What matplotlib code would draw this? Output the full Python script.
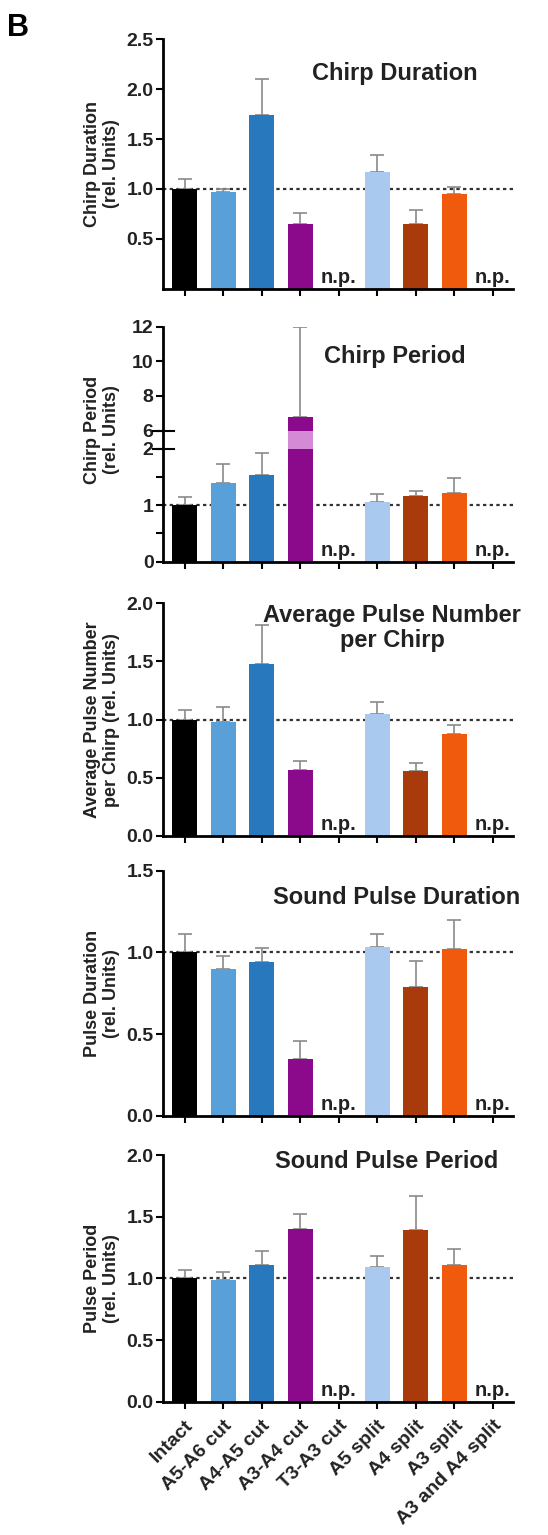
import numpy as np
import matplotlib
matplotlib.use("Agg")
import matplotlib.pyplot as plt
from matplotlib.scale import FuncScale
from matplotlib.transforms import offset_copy

plt.rcParams['font.family'] = ['Liberation Sans', 'DejaVu Sans']
plt.rcParams['font.weight'] = 'bold'

# Groups along the x axis (n.p. = not possible -> NaN)
groups = ["Intact", "A5-A6 cut", "A4-A5 cut", "A3-A4 cut", "T3-A3 cut",
          "A5 split", "A4 split", "A3 split", "A3 and A4 split"]
bar_colors = ["#000000", "#5aa0d8", "#2878be", "#8b0a8c", "#8b0a8c",
              "#a9c9ee", "#a83a0c", "#f05a0c", "#f05a0c"]
nan = np.nan

# Mean values and upper error (SEM)
chirp_duration = [1.00, 0.97, 1.74, 0.65, nan, 1.17, 0.65, 0.95, nan]
chirp_duration_err = [0.10, 0.03, 0.36, 0.11, nan, 0.17, 0.14, 0.07, nan]

chirp_period = [1.00, 1.40, 1.53, 6.80, nan, 1.05, 1.16, 1.22, nan]
chirp_period_err = [0.15, 0.33, 0.39, 5.20, nan, 0.14, 0.09, 0.26, nan]

pulse_number = [1.00, 0.98, 1.48, 0.57, nan, 1.05, 0.56, 0.88, nan]
pulse_number_err = [0.08, 0.13, 0.33, 0.07, nan, 0.10, 0.07, 0.07, nan]

pulse_duration = [1.00, 0.90, 0.94, 0.35, nan, 1.035, 0.79, 1.02, nan]
pulse_duration_err = [0.11, 0.08, 0.09, 0.11, nan, 0.075, 0.16, 0.18, nan]

pulse_period = [1.00, 0.99, 1.11, 1.40, nan, 1.09, 1.39, 1.11, nan]
pulse_period_err = [0.07, 0.06, 0.11, 0.12, nan, 0.09, 0.28, 0.13, nan]

panels = [
    dict(values=chirp_duration, err=chirp_duration_err,
         title="Chirp Duration", ylabel="Chirp Duration\n(rel. Units)",
         ylim=(0, 2.5), ticks=[0.5, 1.0, 1.5, 2.0, 2.5],
         labels=["0.5", "1.0", "1.5", "2.0", "2.5"],
         rect=[0.298, 0.8120, 0.638, 0.1624], title_pos=(0.663, 0.861),
         ylabel_y=0.5),
    dict(values=chirp_period, err=chirp_period_err,
         title="Chirp Period", ylabel="Chirp Period\n(rel. Units)",
         ylim=(0, 12), ticks=[0, 0.5, 1, 1.5, 2, 6, 8, 10, 12],
         labels=["0", "", "1", "", "2", "6", "8", "10", "12"],
         rect=[0.298, 0.6341, 0.638, 0.1531], title_pos=(0.663, 0.872),
         ylabel_y=0.56, broken=(2.0, 6.0)),
    dict(values=pulse_number, err=pulse_number_err,
         title="Average Pulse Number\nper Chirp",
         ylabel="Average Pulse Number\nper Chirp (rel. Units)",
         ylim=(0, 2.0), ticks=[0.0, 0.5, 1.0, 1.5, 2.0],
         labels=["0.0", "0.5", "1.0", "1.5", "2.0"],
         rect=[0.298, 0.4554, 0.638, 0.1516], title_pos=(0.655, 0.894),
         ylabel_y=0.5),
    dict(values=pulse_duration, err=pulse_duration_err,
         title="Sound Pulse Duration", ylabel="Pulse Duration\n(rel. Units)",
         ylim=(0, 1.5), ticks=[0.0, 0.5, 1.0, 1.5],
         labels=["0.0", "0.5", "1.0", "1.5"],
         rect=[0.298, 0.2730, 0.638, 0.1598], title_pos=(0.668, 0.889),
         ylabel_y=0.5),
    dict(values=pulse_period, err=pulse_period_err,
         title="Sound Pulse Period", ylabel="Pulse Period\n(rel. Units)",
         ylim=(0, 2.0), ticks=[0.0, 0.5, 1.0, 1.5, 2.0],
         labels=["0.0", "0.5", "1.0", "1.5", "2.0"],
         rect=[0.298, 0.0868, 0.638, 0.1607], title_pos=(0.64, 0.973),
         ylabel_y=0.5),
]


def make_break_scale(low, high, a=56.5, g=4.5, u=17.33):
    # piecewise linear axis: [0, low] wide, [low, high] squeezed, above: compressed
    def forward(y):
        y = np.asarray(y, dtype=float)
        return np.where(y <= low, y * a,
                        np.where(y <= high, low * a + (y - low) * g,
                                 low * a + (high - low) * g + (y - high) * u))

    def inverse(p):
        p = np.asarray(p, dtype=float)
        p1 = low * a
        p2 = p1 + (high - low) * g
        return np.where(p <= p1, p / a,
                        np.where(p <= p2, low + (p - p1) / g,
                                 high + (p - p2) / u))
    return forward, inverse


fig = plt.figure(figsize=(5.48, 15.35), dpi=100)
fig.text(0.013, 0.9815, "B", fontsize=22, fontweight='bold', va='center')

x = np.arange(len(groups))
for k, p in enumerate(panels):
    ax = fig.add_axes(p["rect"])
    if "broken" in p:
        fwd, inv = make_break_scale(*p["broken"])
        ax.set_yscale(FuncScale(ax, (fwd, inv)))
    vals = np.array(p["values"], dtype=float)
    errs = np.array(p["err"], dtype=float)

    ax.axhline(1.0, ls=(0, (1.5, 1.5)), color="#333333", lw=1.6, zorder=1)
    ax.bar(x, np.nan_to_num(vals), width=0.65, color=bar_colors, zorder=2)
    ax.errorbar(x, vals, yerr=[np.zeros_like(errs), errs], fmt='none',
                ecolor="#8a8a8a", elinewidth=1.2, capsize=5, capthick=1.2,
                zorder=1.5)

    if "broken" in p:
        low, high = p["broken"]
        tall = vals > low
        ax.bar(x[tall], np.full(tall.sum(), high - low), bottom=low,
               width=0.65, color="#d58ad6", zorder=2.5)
        for yb in (low, high):
            ax.plot([-0.03, 0.03], [yb, yb], color="black", lw=1.5,
                    transform=ax.get_yaxis_transform(), clip_on=False)

    # n.p. labels where no value exists
    np_tr = offset_copy(ax.transData, fig=fig, y=2, units='dots')
    for i in x[np.isnan(vals)]:
        ax.text(i, 0, "n.p.", ha='center', va='bottom', fontsize=14.5,
                fontweight='bold', color="#222222", transform=np_tr, zorder=3)

    ax.set_xlim(-0.55, 8.52)
    ax.set_ylim(*p["ylim"])
    ax.set_yticks(p["ticks"])
    ax.set_yticklabels(p["labels"])
    ax.set_xticks(x)
    if k == len(panels) - 1:
        ax.set_xticklabels(groups, rotation=45, ha='right',
                           rotation_mode='anchor', fontsize=14,
                           fontweight='bold', color="#222222")
    else:
        ax.set_xticklabels([])

    for side in ("top", "right"):
        ax.spines[side].set_visible(False)
    for side in ("left", "bottom"):
        ax.spines[side].set_linewidth(2.0)
    ax.tick_params(axis='y', direction='out', length=5, width=1.5,
                   labelsize=14, labelcolor="#222222", pad=2)
    ax.tick_params(axis='x', direction='out', length=5, width=1.5,
                   labelsize=14, labelcolor="#222222", pad=6)

    ax.set_ylabel(p["ylabel"], fontsize=13, fontweight='bold',
                  color="#222222", linespacing=1.1)
    ax.yaxis.set_label_coords(-0.125, p["ylabel_y"])

    ax.text(p["title_pos"][0], p["title_pos"][1], p["title"],
            transform=ax.transAxes, ha='center', va='center', fontsize=17,
            fontweight='bold', color="#222222", linespacing=1.1)

fig.savefig("out.png", dpi=100)
